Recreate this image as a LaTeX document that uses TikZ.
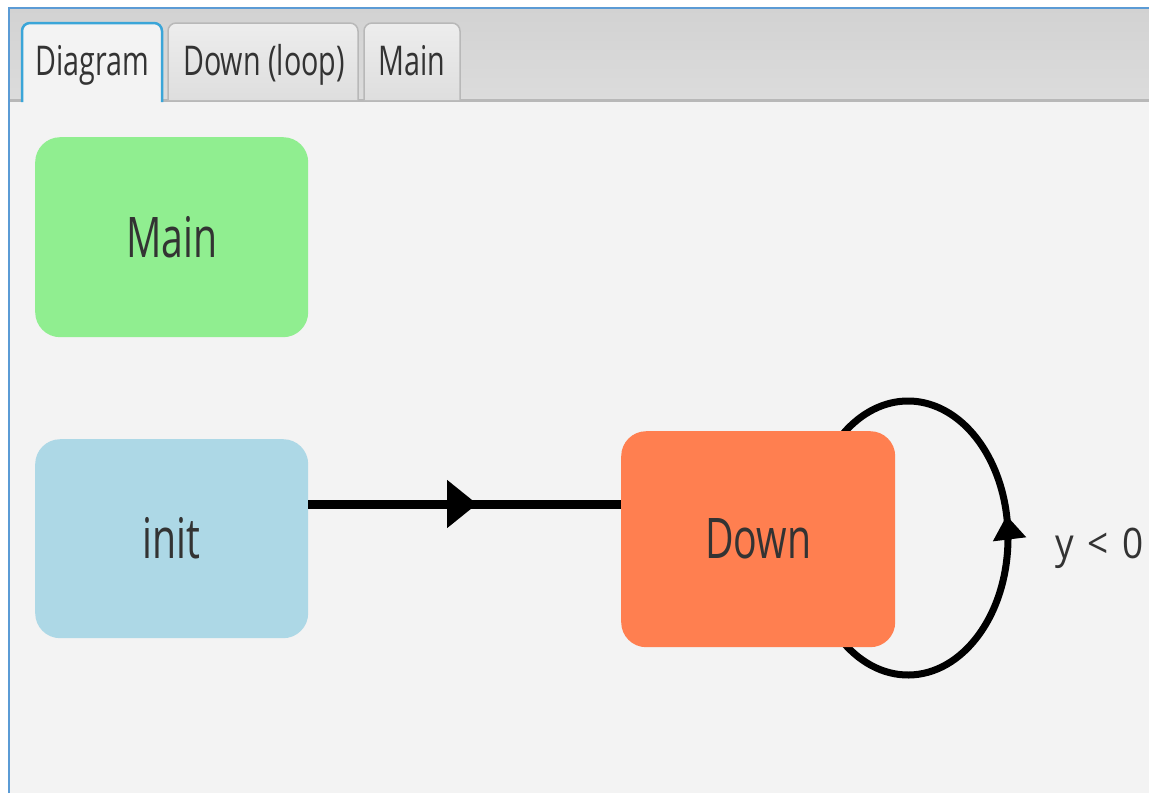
\documentclass[tikz,border=0pt]{standalone}
\usepackage{fontspec}
\setmainfont{Open Sans}[FakeStretch=0.7]
\newfontfamily\guardfont{Open Sans}[FakeStretch=0.88]
\usetikzlibrary{arrows.meta,decorations.markings,calc}
\definecolor{panel}{HTML}{F3F3F3}
\definecolor{strip}{HTML}{DCDCDC}
\definecolor{striptop}{HTML}{D2D2D2}
\definecolor{frameblue}{HTML}{5B9BD5}
\definecolor{tabblue}{HTML}{3AA5D8}
\definecolor{tabline}{HTML}{B8B8B8}
\definecolor{tabtop}{HTML}{EDEDED}
\definecolor{tabbot}{HTML}{DEDEDE}
\definecolor{txt}{HTML}{333333}
\definecolor{mainc}{HTML}{90EE90}
\definecolor{initc}{HTML}{ADD8E6}
\definecolor{downc}{HTML}{FF7F50}
\tikzset{
  state/.style={rectangle, rounded corners=25pt, draw=none, anchor=north west,
    inner sep=0pt, text=txt, font=\fontsize{56}{60}\selectfont},
  tabtext/.style={text=txt, font=\fontsize{41}{44}\selectfont, anchor=base, inner sep=0pt},
  edge/.style={draw=black, line width=9pt},
  loopedge/.style={draw=black, line width=7pt},
  tabshape/.style={draw=tabline, line width=1.5pt, top color=tabtop, bottom color=tabbot},
}
\begin{document}
\begin{tikzpicture}[x=1pt,y=-1pt]
  \useasboundingbox (0,0) rectangle (1149,793);
  \fill[white] (0,0) rectangle (1149,793);
  % window frame and tab strip
  \fill[top color=striptop, bottom color=strip] (9,8) rectangle (1149,101);
  \fill[tabline] (9,99) rectangle (1149,102);
  \fill[panel] (9,102) rectangle (1149,793);
  \draw[frameblue, line width=2.5pt] (9,793) -- (9,8) -- (1149,8);
  % tabs
  \path[tabshape] (168,100) -- (168,31) arc[start angle=180,end angle=90,radius=8pt] -- (350,23)
    arc[start angle=90,end angle=0,radius=8pt] -- (358,100);
  \path[tabshape] (364,100) -- (364,31) arc[start angle=180,end angle=90,radius=8pt] -- (452,23)
    arc[start angle=90,end angle=0,radius=8pt] -- (460,100);
  \fill[panel] (22,104) -- (22,31) arc[start angle=180,end angle=90,radius=8pt] -- (154,23)
    arc[start angle=90,end angle=0,radius=8pt] -- (162,104) -- cycle;
  \draw[tabblue, line width=2.5pt] (22,102) -- (22,31) arc[start angle=180,end angle=90,radius=8pt] -- (154,23)
    arc[start angle=90,end angle=0,radius=8pt] -- (162,102);
  \node[tabtext] (tabDiagram) at (92,75) {Diagram};
  \node[tabtext] (tabDown) at (264,75) {Down (loop)};
  \node[tabtext] (tabMain) at (412,75) {Main};
  % states
  \node[state, fill=mainc, minimum width=273pt, minimum height=200pt] (Main) at (35,137) {Main};
  \node[state, fill=initc, minimum width=273pt, minimum height=199pt] (init) at (35,439) {init};
  % self loop of Down, drawn beneath the state box
  \coordinate (lc) at (908,538);
  \draw[loopedge, postaction={decorate}, decoration={markings,
      mark=at position 0.54 with {\arrow{Triangle[length=24pt,width=32pt]}}}]
    ($(lc)+(220:100pt and 137pt)$) arc[start angle=220,end angle=500,x radius=100pt,y radius=137pt];
  \node[state, fill=downc, minimum width=274pt, minimum height=216pt] (Down) at (621,431) {Down};
  \node[anchor=base west, text=txt, font=\guardfont\fontsize{42}{46}\selectfont, inner sep=0pt] (guard) at (1055,558)
    {y\hspace{14pt}<\hspace{14pt}0};
  % transition init -> Down
  \draw[edge, postaction={decorate}, decoration={markings,
      mark=at position 0.54 with {\arrow{Triangle[length=30pt,width=46pt]}}}]
    (init.east |- 0,504) -- (Down.west |- 0,504);
\end{tikzpicture}
\end{document}
